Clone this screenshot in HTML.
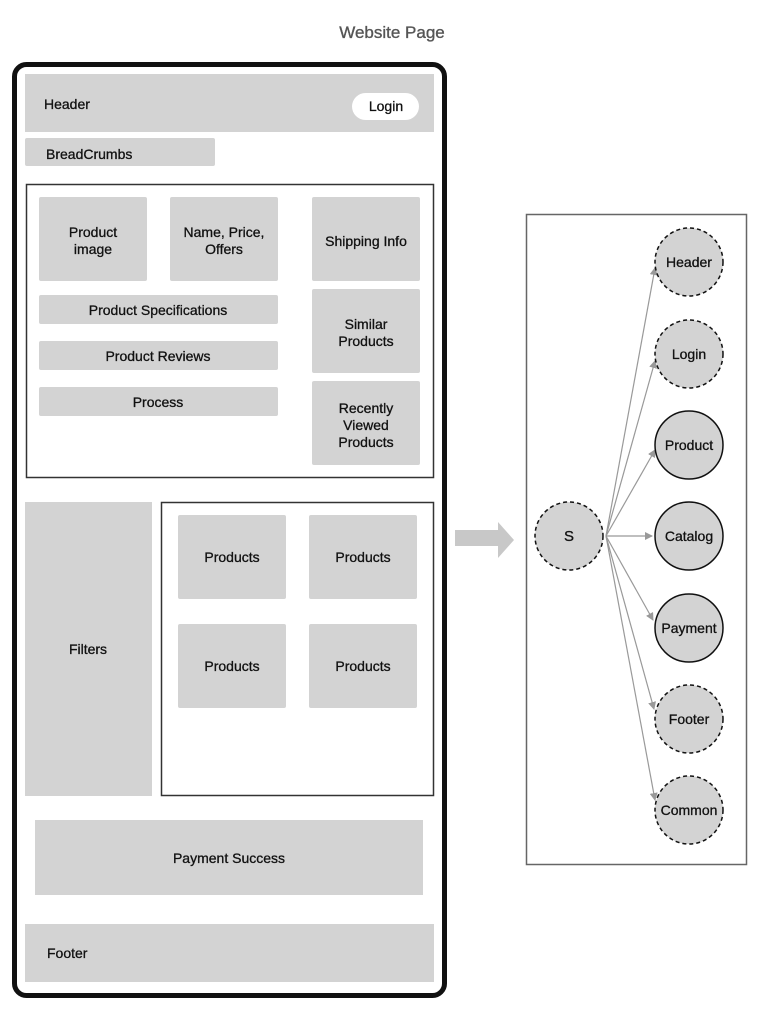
<!DOCTYPE html>
<html><head><meta charset="utf-8"><style>
body{margin:0;background:#fff;}
svg{display:block;font-family:"Liberation Sans",Arial,sans-serif;}
</style></head><body>
<svg width="784" height="1024" viewBox="0 0 784 1024">
<defs><marker id="a" markerWidth="8" markerHeight="8" refX="7" refY="4" orient="auto" markerUnits="userSpaceOnUse"><path d="M0,0 L8,4 L0,8 Z" fill="#999"/></marker></defs>
<text x="392" y="38" text-anchor="middle" font-size="17" fill="#555" stroke="#555" stroke-width="0.35">Website Page</text>
<rect x="14.5" y="64.5" width="430" height="931" rx="12" fill="#fff" stroke="#111" stroke-width="5"/>
<g fill="#d3d3d3">
<rect x="25" y="74" width="409" height="58"/>
<rect x="25" y="138" width="190" height="28" rx="2"/>
<rect x="39" y="197" width="108" height="84" rx="2"/>
<rect x="170" y="197" width="108" height="84" rx="2"/>
<rect x="312" y="197" width="108" height="84" rx="2"/>
<rect x="39" y="295" width="239" height="29" rx="2"/>
<rect x="39" y="341" width="239" height="29" rx="2"/>
<rect x="39" y="387" width="239" height="29" rx="2"/>
<rect x="312" y="289" width="108" height="84" rx="2"/>
<rect x="312" y="381" width="108" height="84" rx="2"/>
<rect x="25" y="502" width="127" height="294"/>
<rect x="178" y="515" width="108" height="84" rx="2"/>
<rect x="309" y="515" width="108" height="84" rx="2"/>
<rect x="178" y="624" width="108" height="84" rx="2"/>
<rect x="309" y="624" width="108" height="84" rx="2"/>
<rect x="35" y="820" width="388" height="75"/>
<rect x="25" y="924" width="409" height="58"/>
</g>
<rect x="352" y="93" width="67" height="27" rx="13.5" fill="#fff"/>
<rect x="26.5" y="184.5" width="407" height="293" fill="none" stroke="#333" stroke-width="1.5"/>
<rect x="161.5" y="502.5" width="272" height="293" fill="none" stroke="#333" stroke-width="1.5"/>
<g font-size="14" fill="#111" stroke="#111" stroke-width="0.3" text-anchor="middle">
<text x="44" y="109" text-anchor="start">Header</text>
<text x="386" y="111">Login</text>
<text x="46" y="159" text-anchor="start">BreadCrumbs</text>
<text x="93" y="237">Product</text><text x="93" y="254">image</text>
<text x="224" y="237">Name, Price,</text><text x="224" y="254">Offers</text>
<text x="366" y="246">Shipping Info</text>
<text x="158" y="315">Product Specifications</text>
<text x="158" y="361">Product Reviews</text>
<text x="158" y="407">Process</text>
<text x="366" y="329">Similar</text><text x="366" y="346">Products</text>
<text x="366" y="413">Recently</text><text x="366" y="430">Viewed</text><text x="366" y="447">Products</text>
<text x="88" y="654">Filters</text>
<text x="232" y="562">Products</text><text x="363" y="562">Products</text>
<text x="232" y="671">Products</text><text x="363" y="671">Products</text>
<text x="229" y="863">Payment Success</text>
<text x="47" y="958" text-anchor="start">Footer</text>
</g>
<path d="M455,530 H498 V522 L514,540 L498,558 V546 H455 Z" fill="#c8c8c8"/>
<rect x="526.5" y="214.5" width="220" height="650" fill="none" stroke="#666" stroke-width="1.5"/>
<g stroke="#999" stroke-width="1.2" marker-end="url(#a)">
<line x1="606" y1="536" x2="655" y2="268"/>
<line x1="606" y1="536" x2="655" y2="361"/>
<line x1="606" y1="536" x2="655" y2="450"/>
<line x1="606" y1="536" x2="652" y2="536"/>
<line x1="606" y1="536" x2="653" y2="620"/>
<line x1="606" y1="536" x2="654" y2="709"/>
<line x1="606" y1="536" x2="655" y2="800"/>
</g>
<g fill="#d3d3d3" stroke="#111" stroke-width="1.5">
<circle cx="569" cy="536" r="34" stroke-dasharray="4,3"/>
<circle cx="689" cy="262" r="34" stroke-dasharray="4,3"/>
<circle cx="689" cy="354" r="34" stroke-dasharray="4,3"/>
<circle cx="689" cy="445" r="34"/>
<circle cx="689" cy="536" r="34"/>
<circle cx="689" cy="628" r="34"/>
<circle cx="689" cy="719" r="34" stroke-dasharray="4,3"/>
<circle cx="689" cy="810" r="34" stroke-dasharray="4,3"/>
</g>
<g font-size="14" fill="#111" stroke="#111" stroke-width="0.3" text-anchor="middle">
<text x="569" y="541" font-size="15">S</text>
<text x="689" y="267">Header</text>
<text x="689" y="359">Login</text>
<text x="689" y="450">Product</text>
<text x="689" y="541">Catalog</text>
<text x="689" y="633">Payment</text>
<text x="689" y="724">Footer</text>
<text x="689" y="815">Common</text>
</g>
</svg>
</body></html>
